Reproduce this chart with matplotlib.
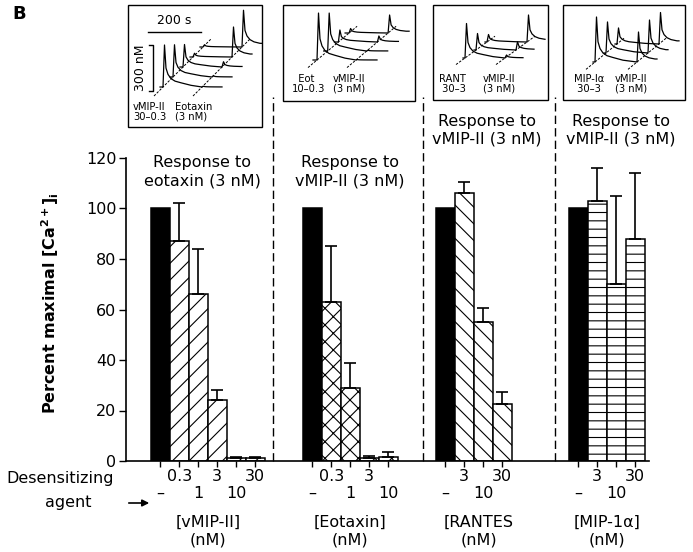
import matplotlib.pyplot as plt
from matplotlib.patches import Rectangle

plt.rcParams['font.family'] = 'DejaVu Sans'
plt.rcParams['hatch.linewidth'] = 0.8
plt.rcParams['mathtext.fontset'] = 'dejavusans'

# ---- bar data (percent maximal [Ca2+]i) ----
g1_ticks = ['–', '0.3', '1', '3', '10', '30']
g1_vals = [100, 87, 66, 24, 1, 1]
g1_err = [0, 15, 18, 4, 0.6, 0.6]

g2_ticks = ['–', '0.3', '1', '3', '10']
g2_vals = [100, 63, 29, 1, 1.5]
g2_err = [0, 22, 10, 1, 2]

g3_ticks = ['–', '3', '10', '30']
g3_vals = [100, 106, 55, 22.5]
g3_err = [0, 4.5, 5.5, 5]

g4_ticks = ['–', '3', '10', '30']
g4_vals = [100, 103, 70, 88]
g4_err = [0, 13, 35, 26]

agents = ['[vMIP-II]\n(nM)', '[Eotaxin]\n(nM)', '[RANTES\n(nM)', '[MIP-1\u03b1]\n(nM)']
responses = ['Response to\neotaxin (3 nM)', 'Response to\nvMIP-II (3 nM)',
             'Response to\nvMIP-II (3 nM)', 'Response to\nvMIP-II (3 nM)']

# ---- inset trace peak heights (nM), front trace first ----
ins1_h1 = [280, 215, 150, 25, 15]
ins1_h2 = [5, 8, 35, 200, 245]
ins2_h1 = [313, 253, 80, 30]
ins2_h2 = [3, 5, 40, 120]
ins3_h1 = [230, 110, 50]
ins3_h2 = [20, 55, 180]
ins4_h1 = [300, 207, 107]
ins4_h2 = [200, 220, 210]

# spike shape (time offset px, fraction of peak)
spike_dt = [0, 1.5, 3, 5, 8, 12, 18, 28]
spike_f = [0, 1.0, 0.45, 0.3, 0.2, 0.14, 0.1, 0.04]

FS = 11.5
fig = plt.figure(figsize=(6.93, 5.52), dpi=100)
ax = fig.add_axes([126 / 693, 91 / 552, 523 / 693, 303 / 552])

groups = [(g1_ticks, g1_vals, g1_err, '//', 1.3),
          (g2_ticks, g2_vals, g2_err, 'xx', 9.3),
          (g3_ticks, g3_vals, g3_err, '\\\\', 16.3),
          (g4_ticks, g4_vals, g4_err, '--', 23.3)]

centers, ticklabels = [], []
for gi, (ticks, vals, err, hatch, start) in enumerate(groups):
    lefts = [start + i for i in range(len(vals))]
    ax.bar(lefts[:1], vals[:1], width=1, align='edge', color='black',
           edgecolor='black', linewidth=1.1)
    ax.bar(lefts[1:], vals[1:], width=1, align='edge', facecolor='white',
           edgecolor='black', hatch=hatch, linewidth=1.1)
    c = [l + 0.5 for l in lefts]
    ex = [c[i] for i in range(len(vals)) if err[i] > 0]
    ey = [vals[i] for i in range(len(vals)) if err[i] > 0]
    ee = [err[i] for i in range(len(vals)) if err[i] > 0]
    ax.errorbar(ex, ey, yerr=[[0] * len(ee), ee], fmt='none', ecolor='black',
                elinewidth=1.2, capsize=4.5, capthick=1.2, zorder=3)
    for i, t in enumerate(ticks):
        centers.append(c[i])
        ticklabels.append(t if i % 2 == 1 else '\n' + t)
    gc = start + len(vals) / 2
    ax.text(gc + (0.25 if gi == 2 else 0), -21.5, agents[gi], ha='center', va='top',
            fontsize=FS, linespacing=1.2, clip_on=False)

resp_pos = [(4.0, 121), (11.8, 121), (19.0, 137.5), (26.05, 137.5)]
for (x, y), s in zip(resp_pos, responses):
    ax.text(x, y, s, ha='center', va='top', fontsize=FS, linespacing=1.25,
            clip_on=False)

for xs in [7.74, 15.63, 22.58]:
    ax.plot([xs, xs], [0, 144], color='black', lw=1, ls=(0, (6, 3)), clip_on=False)

ax.set_xlim(0, 523 / 19)
ax.set_ylim(0, 120)
ax.set_yticks(range(0, 121, 20))
ax.set_xticks(centers)
ax.set_xticklabels(ticklabels, fontsize=FS, linespacing=1.15)
ax.tick_params(axis='y', direction='out', length=5, width=1, labelsize=FS, pad=2)
ax.tick_params(axis='x', direction='out', length=4, width=1, pad=2)
for s in ['top', 'right']:
    ax.spines[s].set_visible(False)
for s in ['left', 'bottom']:
    ax.spines[s].set_linewidth(1.2)

# ---- overlay in pixel coordinates ----
ov = fig.add_axes([0, 0, 1, 1])
ov.set_xlim(0, 693)
ov.set_ylim(552, 0)
ov.axis('off')

ov.text(19, 14, 'B', fontsize=13, fontweight='bold', ha='center', va='center')
ov.text(50, 303, r'Percent maximal [Ca$^{\mathbf{2+}}$]$_{\mathbf{i}}$', rotation=90,
        fontsize=FS, fontweight='bold', ha='center', va='center')
ov.text(60, 479, 'Desensitizing', fontsize=FS, ha='center', va='center')
ov.text(68, 502, 'agent', fontsize=FS, ha='center', va='center')
ov.annotate('', xy=(152, 503), xytext=(126, 503),
            arrowprops=dict(arrowstyle='-|>', lw=1.2, color='black', mutation_scale=10))

K = 45 / 300  # px per nM


def draw_trace(x0, y0, length, t1, h1, t2, h2):
    xs, ys = [x0], [y0]
    last = 0
    for t, h, lim in ((t1, h1, t2), (t2, h2, length)):
        for dt, f in zip(spike_dt, spike_f):
            if t + dt <= lim:
                xs.append(x0 + t + dt)
                ys.append(y0 - h * K * f)
                last = h * K * f
    xs.append(x0 + length)
    ys.append(y0 - last)
    ov.plot(xs, ys, color='black', lw=0.9)


def draw_inset(box, start, step, length, t1, t2, h1s, h2s, lab1, lab2, lab_pos):
    x0, y0, x1, y1 = box
    ov.add_patch(Rectangle((x0, y0), x1 - x0, y1 - y0, fill=False, lw=1, ec='black'))
    sx, sy = start
    dx, dy = step
    n = len(h1s)
    for i in range(n):
        draw_trace(sx + i * dx, sy + i * dy, length, t1, h1s[i], t2, h2s[i])
    for t in (t1, t2):
        ax0, ay0 = sx + t - 9, sy + 9 * (-dy / dx)
        ax1, ay1 = sx + t + (n - 1) * dx + 8, sy + (n - 1) * dy + 8 * dy / dx
        ov.plot([ax0, ax1], [ay0, ay1], color='black', lw=0.7, ls=(0, (2.5, 1.5)))
    (lx1, lx2, ly) = lab_pos
    ov.text(lx1, ly, lab1, fontsize=7.2, ha='left', va='top', linespacing=0.95)
    ov.text(lx2, ly, lab2, fontsize=7.2, ha='left', va='top', linespacing=0.95)


draw_inset((128, 5, 262, 127), (160, 87), (10, -10), 62, 3, 42, ins1_h1, ins1_h2,
           'vMIP-II\n30–0.3', 'Eotaxin\n(3 nM)', (133, 175, 102))
draw_inset((283, 5, 415, 101), (313, 60), (10.7, -9), 64, 4, 43, ins2_h1, ins2_h2,
           '  Eot\n10–0.3', 'vMIP-II\n(3 nM)', (292, 333, 74))
draw_inset((433, 5, 548, 100), (463, 58), (11, -8), 60, 2, 42, ins3_h1, ins3_h2,
           'RANT\n 30–3', 'vMIP-II\n(3 nM)', (439, 483, 74))
draw_inset((563, 5, 685, 100), (593, 62), (11, -9), 64, 2, 44, ins4_h1, ins4_h2,
           'MIP-I\u03b1\n 30–3', 'vMIP-II\n(3 nM)', (574, 615, 74))

# scale bars in first inset
ov.plot([148, 201], [32, 32], color='black', lw=1)
ov.text(174, 21, '200 s', fontsize=9, ha='center', va='center')
ov.plot([149, 153, 153, 149], [45, 45, 91, 91], color='black', lw=1)
ov.text(140, 68, '300 nM', fontsize=9, rotation=90, ha='center', va='center')

fig.savefig('out.png', dpi=100)
